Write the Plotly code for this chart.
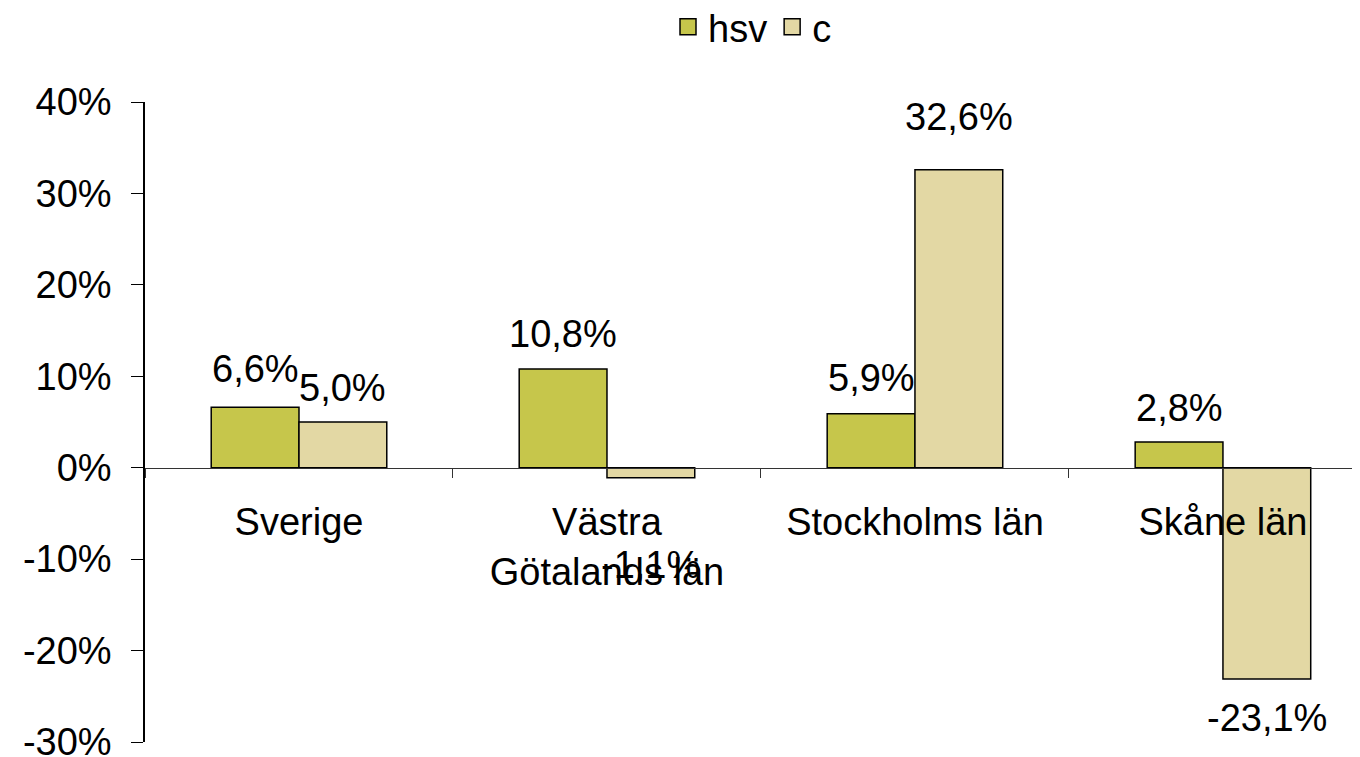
import plotly.graph_objects as go

categories = ["Sverige", "Västra<br>Götalands län", "Stockholms län", "Skåne län"]
hsv = [6.6, 10.8, 5.9, 2.8]
c = [5.0, -1.1, 32.6, -23.1]
y_ticks = [-30, -20, -10, 0, 10, 20, 30, 40]
y_ticklabels = [f"{v}%" for v in y_ticks]

# label vertical offsets (px) relative to bar end
hsv_dy = [38, 35, 36, 34]
c_dy = [34, -87, 53, -39]

GREEN = "#C6C64B"
BEIGE = "#E3D8A4"
FONT = "Liberation Sans, Arial, sans-serif"
FS = 38

W, H = 1360, 757
PAGE_OFF = 8  # browser body margin
ML, MR, MT, MB = 145 - PAGE_OFF, PAGE_OFF, 102 - PAGE_OFF, H - 742 + PAGE_OFF
YMIN, YMAX = -30, 40
BARGAP = 0.43
XMAX = 3.445
plot_w = W - ML - MR
cat_px = plot_w / (XMAX + 0.5)
bar_px = cat_px * (1 - BARGAP) / 2

fig = go.Figure()
for name, vals, col in (("hsv", hsv, GREEN), ("c", c, BEIGE)):
    fig.add_bar(name=name, x=categories, y=vals, legendgroup=name, showlegend=False,
                marker=dict(color=col, line=dict(color="black", width=1.5)))
for name, col in (("hsv", GREEN), ("c", BEIGE)):
    fig.add_scatter(name=name, x=[None], y=[None], mode="markers", legendgroup=name,
                    marker=dict(symbol="square", size=22, color=col, line=dict(color="black", width=1.5)))

ann = []
for vals, dys, sh in ((hsv, hsv_dy, -bar_px / 2), (c, c_dy, bar_px / 2)):
    for cat, v, dy in zip(categories, vals, dys):
        ann.append(dict(x=cat, y=v, xref="x", yref="y", text=f"{v:.1f}%".replace(".", ","),
                        showarrow=False, xshift=sh, yshift=dy, yanchor="middle",
                        font=dict(family=FONT, size=FS, color="black")))

fig.update_layout(
    width=W, height=H,
    margin=dict(l=ML, r=MR, t=MT, b=MB, autoexpand=False),
    paper_bgcolor="white", plot_bgcolor="white",
    barmode="group", bargap=BARGAP, bargroupgap=0,
    font=dict(family=FONT, size=FS, color="black"),
    showlegend=True,
    legend=dict(orientation="h", x=0.5, xanchor="center", yref="container", y=1 - (27 - PAGE_OFF) / H,
                yanchor="middle", font=dict(size=FS), traceorder="normal", itemsizing="trace"),
    annotations=ann,
    xaxis=dict(range=[-0.5, XMAX], showgrid=False, showline=True, linecolor="#333333", linewidth=1,
               ticks="outside", tickson="boundaries", ticklen=9, tickcolor="#333333",
               anchor="free", position=(0 - YMIN) / (YMAX - YMIN), ticklabelstandoff=21,
               zeroline=False, automargin=False),
    yaxis=dict(range=[YMIN, YMAX], tickvals=y_ticks, ticktext=y_ticklabels, showgrid=False,
               showline=True, linecolor="black", linewidth=1.5, ticks="outside", ticklen=12,
               tickcolor="black", ticklabelstandoff=12, zeroline=False, automargin=False),
)

fig.write_html("out.html")
